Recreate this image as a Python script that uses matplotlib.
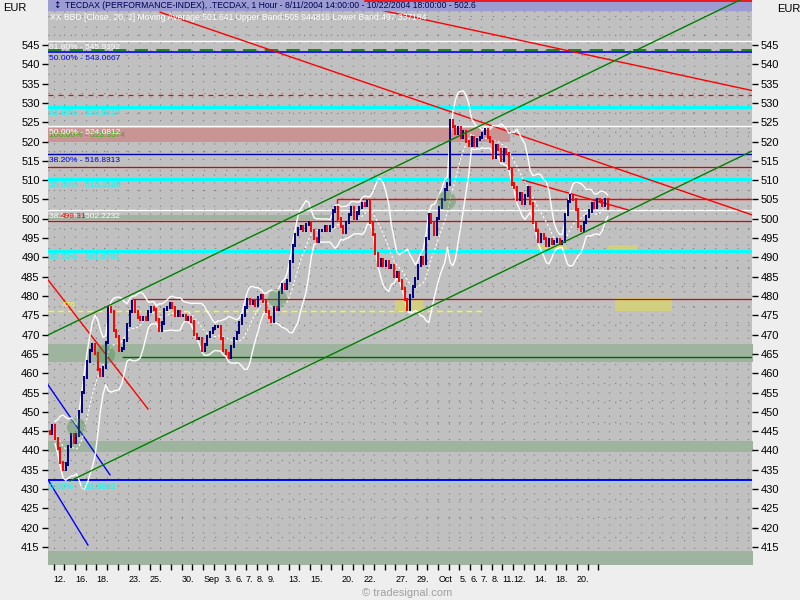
import numpy as np
import pandas as pd
import matplotlib
matplotlib.use('Agg')
import matplotlib.pyplot as plt

# TecDAX hourly closes, read off the chart and thinned to 4 per trading day
# (first session starts 8/11 14:00, so only 2 bars there)
closes = [
    444.5, 446.5,
    443, 440.5, 437, 435,
    436.5, 441, 444, 442,
    444, 450, 455, 459,
    463, 466, 467.5, 465,
    461, 459.5, 461.5, 468,
    477, 476, 471, 469.5,
    466, 466.5, 468.5, 472.5,
    476, 478.5, 476, 474.5,
    474, 474.5, 474, 476,
    477, 476.5, 474, 471,
    473, 476.5, 477, 478,
    477, 475, 476, 475,
    475, 474, 474.5, 473.5,
    470, 469, 469, 466,
    467.5, 469.5, 470.5, 471.5,
    472, 472, 469, 466,
    465, 464, 467, 469,
    470.5, 473, 475, 477,
    479, 478, 478.5, 477.5,
    479.5, 480, 478.5, 476,
    474.5, 473.5, 477, 476.5,
    481, 483, 482, 484,
    489, 493, 496, 497.5,
    498, 497, 498.5, 499,
    497, 495, 494, 497,
    497, 498, 497, 498,
    502, 503, 500, 498,
    496.5, 499, 501, 503,
    500, 501.5, 503, 504,
    503.5, 504.5, 499, 496,
    491, 488, 489.5, 488,
    489, 487.5, 488, 485,
    486, 484, 482, 479,
    476.5, 480, 482.5, 484.5,
    488, 490, 488.5, 495,
    501, 499, 496, 500,
    503, 505, 507.5, 509,
    525.5, 524, 522, 523.5,
    521, 522.5, 520, 519,
    521, 519, 520.5, 521,
    522, 523, 521, 520,
    516, 519, 518, 515,
    518, 517, 513, 509,
    508, 505, 506.5, 504,
    506, 508, 504, 499,
    497, 494, 496, 495,
    493, 494.5, 493.5, 494,
    494.5, 493.5, 494, 501,
    504.5, 506, 505, 502.5,
    498, 497, 499, 500.5,
    502, 504, 503, 505,
    504.5, 503.5, 505, 502.6,
]
first_open = 445.0
bars_per_day = 4
first_slot = 2
bb_window = 9          # 20 hourly bars ~ 9 of the thinned bars
bb_width = 2

# trading-day index -> axis label (Aug 11 = day 0)
day_labels = {1: '12.', 3: '16.', 5: '18.', 8: '23.', 10: '25.', 13: '30.', 15: 'Sep',
              17: '3.', 18: '6.', 19: '7.', 20: '8.', 21: '9.', 23: '13.', 25: '15.',
              28: '20.', 30: '22.', 33: '27.', 35: '29.', 37: 'Oct', 39: '5.', 40: '6.',
              41: '7.', 42: '8.', 43: '11.', 44: '12.', 46: '14.', 48: '18.', 50: '20.'}
n_days = 53

# fibonacci levels
fib_values = [545.9392, 543.0667, 528.9617, 524.0812, 516.8313, 510.3199, 502.2232, 491.6791, 431.9883]
fib_pcts = ['61.80%', '50.00%', '61.80%', '50.00%', '38.20%', '50.00%', '38.20%', '38.20%', '0.00%']

# other horizontal drawings (price levels)
green_dash_level = 543.63
red_dash_level = 532.1
red_levels = [513.4, 499.31]
blue_low_level = 432.35
box_top = 505.0
box_left = 27.5
red_479 = 479.3
red_479_from = 8.3
green_464 = 464.3
green_464_from = 7.37
yellow_476 = 476.2
yellow_476_to = 41.2

# shaded zones: (day from, day to, price low, price high)
rose_zones = [(0.47, 43.7, 520.0, 523.6)]
green_zones = [(0.47, 27.15, 499.8, 500.9), (0.47, 67, 462.9, 467.5),
               (0.47, 67, 439.6, 442.5), (0.47, 67, 410.0, 414.0)]
yellow_zones = [(32.96, 35.58, 476.1, 479.2), (53.56, 58.9, 476.1, 479.5),
                (46.25, 49.06, 491.1, 493.2), (52.9, 55.7, 491.1, 493.2)]

# trend lines: (day0, price0, day1, price1)
red_trends = [(10.96, 553.5, 66.4, 501.0), (27.25, 556.65, 66.4, 533.2),
              (0.47, 484.2, 9.83, 450.75), (44.94, 510.0, 54.78, 502.3)]
green_trends = [(0.47, 469.9, 65.26, 556.65), (2.53, 432.1, 66.4, 517.55)]
blue_trends = [(0.47, 457.0, 6.27, 433.7), (0.47, 432.4, 4.21, 415.5)]

# green signal circles (day, price)
circle_days = [3.09, 5.8, 21.88, 37.73]
circle_prices = [446.2, 465.0, 479.5, 504.9]

plt.rcParams['font.family'] = ['Liberation Sans', 'DejaVu Sans']
lab = 6.0   # size of the level labels

fig = plt.figure(figsize=(8, 6), dpi=100, facecolor='#eeeeee')
ax = fig.add_axes([0.06, 0.06, 0.88, 0.94])
ax.set_facecolor('#c0c0c0')
ax.set_xlim(0.47, 66.39)
ax.set_ylim(410.6, 556.65)
for s in ax.spines.values():
    s.set_visible(False)

# dotted grid
for d in range(1, 67):
    ax.axvline(d, color='#7c7c7c', lw=0.8, ls=(0, (1, 6)), zorder=0.5)
for p in np.arange(412.5, 556, 5):
    ax.axhline(p, color='#7c7c7c', lw=0.8, ls=(0, (1, 9)), zorder=0.5)

# zones
for d0, d1, lo, hi in rose_zones:
    ax.fill_between([d0, d1], lo, hi, color='#c89494', lw=0, zorder=1)
for d0, d1, lo, hi in green_zones:
    ax.fill_between([d0, d1], lo, hi, color='#9fb49f', lw=0, zorder=1)
for d0, d1, lo, hi in yellow_zones:
    ax.fill_between([d0, d1], lo, hi, color='#d2cf7e', lw=0, zorder=1.2)

# horizontal levels
fib_styles = [('white', 1.0), ('#0000ff', 1.2), ('#00ffff', 2.2), ('white', 1.0), ('#0000b4', 1.0),
              ('#00ffff', 2.2), ('white', 1.0), ('#00ffff', 2.2), ('#40ffff', 1.0)]
fib_text = ['white', '#0000ff', '#00ffff', 'white', '#0000e0', '#00ffff', 'white', '#00ffff', '#00ffff']
for v, pct, (c, lw), tc in zip(fib_values, fib_pcts, fib_styles, fib_text):
    ax.axhline(v, color=c, lw=lw, zorder=2)
    ax.annotate(f'{pct} - {v:.4f}', (0.55, v), xytext=(0, -2), textcoords='offset points',
                va='top', ha='left', color=tc, fontsize=lab, zorder=8)
ax.axhline(green_dash_level, color='#008000', lw=1.2, ls=(0, (8, 5)), zorder=2)
ax.axhline(red_dash_level, color='#ff0000', lw=0.9, ls=(0, (4, 4)), zorder=2)
for r in red_levels:
    ax.axhline(r, color='#e00000', lw=0.9, zorder=2)
ax.axhline(blue_low_level, color='#0000ff', lw=1.4, zorder=2)
ax.hlines(box_top, box_left, 66.4, color='#ff0000', lw=1.0, zorder=2)
ax.vlines(box_left, red_levels[1], box_top, color='#ff0000', lw=1.0, zorder=2)
ax.hlines(red_479, red_479_from, 66.4, color='#e00000', lw=0.9, zorder=2)
ax.hlines(green_464, green_464_from, 66.4, color='#006400', lw=1.0, zorder=2)
ax.hlines(yellow_476, 0.47, yellow_476_to, color='#ffff00', lw=1.0, ls=(0, (4, 3)), zorder=2)

ax.annotate('100.00% - 523.3574', (0.55, 523.6), xytext=(0, -3), textcoords='offset points',
            va='top', color='#20c000', fontsize=lab, zorder=7)
ax.annotate('499.31', (1.69, fib_values[6]), xytext=(0, -2), textcoords='offset points',
            va='top', color='#ff0000', fontsize=lab, zorder=9)
ax.annotate('476', (1.78, yellow_476), xytext=(0, 1.5), textcoords='offset points',
            va='bottom', color='#ffff00', fontsize=lab, zorder=9)

# trend lines
for d0, p0, d1, p1 in red_trends:
    ax.plot([d0, d1], [p0, p1], color='#ff0000', lw=1.0, zorder=3)
for d0, p0, d1, p1 in green_trends:
    ax.plot([d0, d1], [p0, p1], color='#008000', lw=1.0, zorder=6.5)
for d0, p0, d1, p1 in blue_trends:
    ax.plot([d0, d1], [p0, p1], color='#0000ff', lw=1.0, zorder=3)

# bollinger bands
s = pd.Series(closes, dtype=float)
x = (np.arange(len(closes)) + first_slot + 0.5) / bars_per_day
ma = s.rolling(bb_window, min_periods=3).mean()
sd = s.rolling(bb_window, min_periods=3).std(ddof=0)
ax.plot(x, ma + bb_width * sd, color='white', lw=1.0, zorder=3.5)
ax.plot(x, ma - bb_width * sd, color='white', lw=1.0, zorder=3.5)
ax.plot(x, ma, color='white', lw=0.8, ls=(0, (2, 2)), zorder=3.5)

# price bars: from previous close to close
prev = np.concatenate([[first_open], s.values[:-1]])
up = s.values >= prev
lo = np.minimum(prev, s.values) - 0.4
hi = np.maximum(prev, s.values) + 0.4
ax.vlines(x[up], lo[up], hi[up], color='#000080', lw=1.4, zorder=4)
ax.vlines(x[~up], lo[~up], hi[~up], color='#ff0000', lw=1.4, zorder=4)

# signal circles
ax.scatter(circle_days, circle_prices, s=190, color='#3c8c3c', alpha=0.35, lw=0, zorder=5)

# header band and texts
ax.axhspan(554.06, 556.65, color='#9c9cd2', zorder=6)
ax.axhline(556.5, xmin=0.45, xmax=1, color='#ff0000', lw=1.2, zorder=6.2)
fig.text(0.066, 0.991, '\u2195', color='#000050', fontsize=6.5, va='center', family=['DejaVu Sans'])
fig.text(0.081, 0.991,
         'TECDAX (PERFORMANCE-INDEX), .TECDAX, 1 Hour - 8/11/2004 14:00:00 - 10/22/2004 18:00:00 - 502.6',
         color='#000050', fontsize=6.2, va='center')
fig.text(0.062, 0.971,
         'XX BBD [Close, 20, 2] Moving Average:501.641 Upper Band:505.944816 Lower Band:497.337184',
         color='white', fontsize=6.2, va='center')

# axes
yt = np.arange(415, 546, 5)
ax.set_yticks(yt)
ax.set_yticklabels([str(v) for v in yt])
ax.tick_params(axis='y', left=True, right=True, labelleft=True, labelright=True,
               length=4, width=1, pad=2, labelsize=8, colors='black')
xt = np.arange(1, n_days)
ax.set_xticks(xt)
ax.set_xticklabels([day_labels.get(d, '') for d in xt], ha='left')
ax.tick_params(axis='x', length=4, width=1, pad=4, labelsize=6.5)

fig.text(0.004, 0.987, 'EUR', fontsize=8, va='center')
fig.text(0.972, 0.985, 'EUR', fontsize=8, va='center')
fig.text(0.452, 0.007, '\u00a9 tradesignal.com', fontsize=8, color='#a0a0a0')

fig.savefig('out.png', dpi=100, facecolor=fig.get_facecolor())
